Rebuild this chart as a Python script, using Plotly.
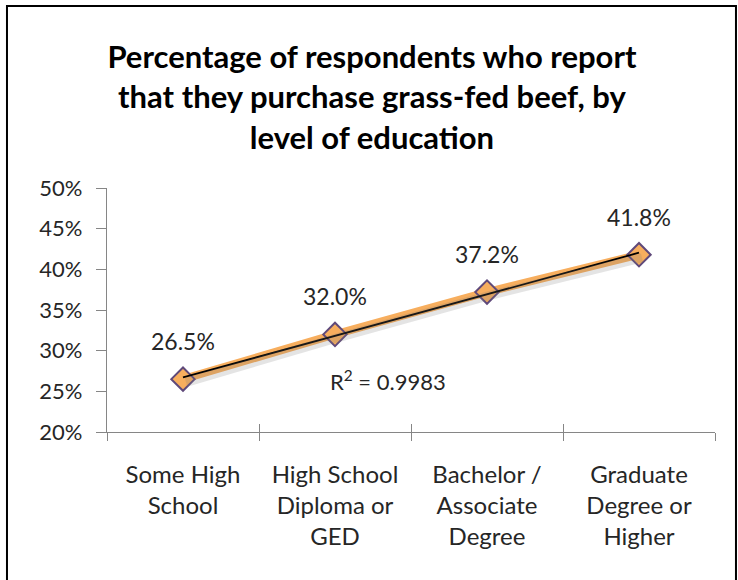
import numpy as np
import plotly.graph_objects as go

# Survey share buying grass-fed beef, by education level
categories = [
    "Some High<br>School",
    "High School<br>Diploma or<br>GED",
    "Bachelor /<br>Associate<br>Degree",
    "Graduate<br>Degree or<br>Higher",
]
percent = [26.5, 32.0, 37.2, 41.8]
r_squared_label = "R<sup>2</sup> = 0.9983"

y_ticks = [20, 25, 30, 35, 40, 45, 50]
y_tick_text = [f"{v}%" for v in y_ticks]

FONT = "Lato"
ORANGE = "#F7AE5E"
PURPLE = "#5F497A"
AXIS = "#868686"
TEXT = "#262626"

# Linear trend through the category positions
idx = np.arange(len(percent))
slope, intercept = np.polyfit(idx, percent, 1)
trend = slope * idx + intercept

fig = go.Figure()

# soft drop shadow under the series line
fig.add_trace(go.Scatter(
    x=categories, y=percent, mode="lines",
    line=dict(color="rgba(120,120,120,0.2)", width=9),
    xaxis="x3", yaxis="y2", showlegend=False, hoverinfo="skip",
))

fig.add_trace(go.Scatter(
    x=categories, y=percent, mode="lines+markers",
    line=dict(color=ORANGE, width=8),
    marker=dict(symbol="diamond", size=18, color=ORANGE,
                line=dict(color=PURPLE, width=2)),
    showlegend=False, hoverinfo="skip",
))

fig.add_trace(go.Scatter(
    x=categories, y=trend, mode="lines",
    line=dict(color="black", width=1.8),
    xaxis="x2", showlegend=False, hoverinfo="skip",
))

for c, v in zip(categories, percent):
    fig.add_annotation(
        x=c, y=v, text=f"{v:.1f}%", showarrow=False, yshift=38,
        font=dict(family=FONT, size=23, color=TEXT),
    )

fig.add_annotation(
    x=1.35, y=26.3, xref="x", yref="y", text=r_squared_label,
    showarrow=False, font=dict(family=FONT, size=22, color=TEXT),
)

# Outer chart border
fig.add_shape(
    type="rect", xref="paper", yref="paper",
    x0=-0.1645, x1=1.0345, y0=-1.0, y1=1.746,
    line=dict(color="black", width=2), fillcolor="rgba(0,0,0,0)",
    layer="below",
)

fig.update_layout(
    width=738, height=580,
    margin=dict(l=107, r=23, t=188, b=148),
    paper_bgcolor="white", plot_bgcolor="white",
    title=dict(
        text="Percentage of respondents who report<br>"
             "that they purchase grass-fed beef, by<br>"
             "level of education",
        x=0.504, xanchor="center", xref="container",
        y=1 - 68 / 580, yanchor="top", yref="container",
        font=dict(family=FONT, size=31, color="black", weight="bold"),
    ),
    xaxis=dict(
        type="category", categoryarray=categories, range=[-0.5, 3.5],
        showline=True, linecolor=AXIS, linewidth=1.2,
        ticks="outside", ticklen=8, tickcolor=AXIS, tickwidth=1.2,
        tickson="boundaries", showgrid=False, zeroline=False,
        ticklabelstandoff=21,
        tickfont=dict(family=FONT, size=24, color=TEXT),
    ),
    xaxis2=dict(
        type="category", categoryarray=categories, range=[-0.5, 3.5],
        overlaying="x", matches="x", side="bottom",
        ticks="inside", ticklen=8, tickcolor=AXIS, tickwidth=1.2,
        tickson="boundaries", showticklabels=False, showgrid=False,
        showline=False, zeroline=False,
    ),
    # shadow axes: same scales nudged a few pixels right and down
    xaxis3=dict(
        type="category", categoryarray=categories,
        range=[-0.5 - 0.02, 3.5 - 0.02], overlaying="x",
        showticklabels=False, ticks="", showgrid=False,
        showline=False, zeroline=False,
    ),
    yaxis2=dict(
        range=[20 + 0.4, 50 + 0.4], overlaying="y",
        showticklabels=False, ticks="", showgrid=False,
        showline=False, zeroline=False,
    ),
    yaxis=dict(
        range=[20, 50], tickvals=y_ticks, ticktext=y_tick_text,
        showline=True, linecolor=AXIS, linewidth=1.2,
        ticks="outside", ticklen=10, tickcolor=AXIS, tickwidth=1.2,
        showgrid=False, zeroline=False, ticklabelstandoff=9,
        tickfont=dict(family=FONT, size=22, color=TEXT),
    ),
)

fig.write_html("out.html")
